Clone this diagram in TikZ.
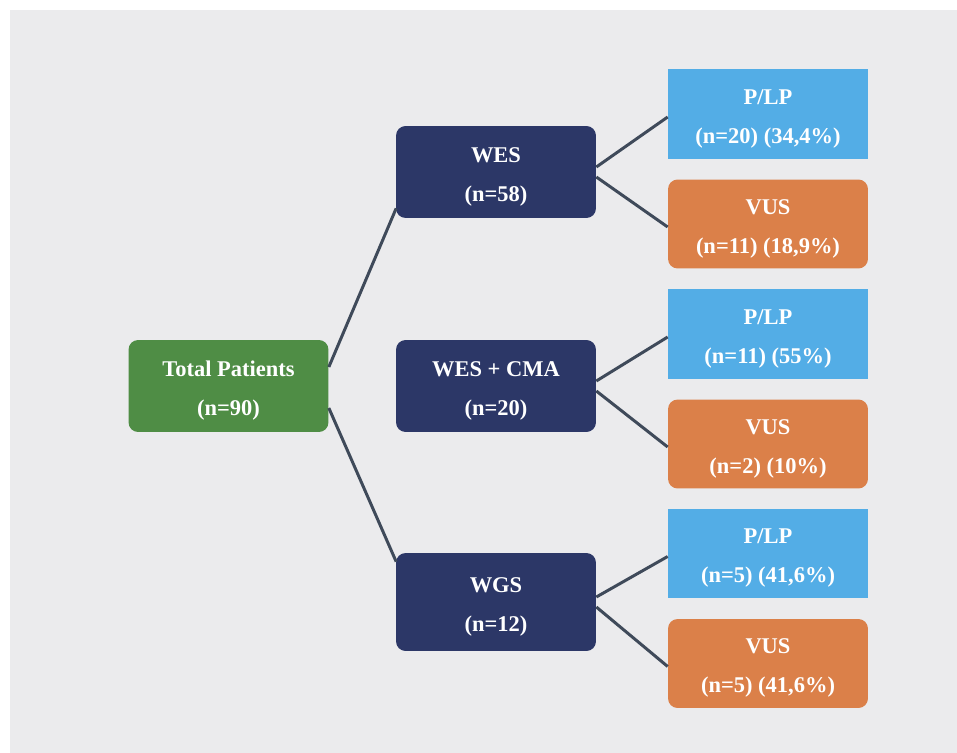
\documentclass[tikz,border=0pt]{standalone}
\usepackage{fontspec}
\setmainfont{Liberation Serif}
\usepackage{xcolor}
\usepackage{tikz}
\usetikzlibrary{positioning,calc}

\definecolor{panelgray}{HTML}{EBEBED}
\definecolor{totalgreen}{HTML}{4F8D45}
\definecolor{testnavy}{HTML}{2C3767}
\definecolor{plpblue}{HTML}{53ADE6}
\definecolor{vusorange}{HTML}{DB8049}
\definecolor{linkgray}{HTML}{3F4A5A}

\begin{document}
\begin{tikzpicture}[
  x=0.02cm, y=-0.02cm,
  font=\fontsize{12.8}{22.2}\selectfont\bfseries,
  box/.style={text=white, align=center, inner sep=0pt,
              text height=33.4pt, text depth=0pt,
              minimum width=4cm, minimum height=1.84cm},
  root/.style={box, fill=totalgreen, rounded corners=5.5pt},
  test/.style={box, fill=testnavy, rounded corners=5.5pt},
  plp/.style={box, fill=plpblue, minimum height=1.8cm},
  vus/.style={box, fill=vusorange, rounded corners=5.5pt, minimum height=1.78cm},
  link/.style={draw=linkgray, line width=1.7pt},
]
\fill[white] (0,0) rectangle (957,753);
\fill[panelgray] (10,10) rectangle (957,753);
\useasboundingbox (0,0) rectangle (957,753);

\node[root] (total) at (228.5,386) {Total Patients\\(n=90)};

\node[test] (wes) at (496,172) {WES\\(n=58)};
\node[test] (cma) at (496,386) {WES + CMA\\(n=20)};
\node[test, minimum height=1.96cm] (wgs) at (496,602) {WGS\\(n=12)};

\node[plp] (plp1) at (768,114)   {P/LP\\(n=20) (34,4\%)};
\node[vus] (vus1) at (768,224)   {VUS\\(n=11) (18,9\%)};
\node[plp] (plp2) at (768,334)   {P/LP\\(n=11) (55\%)};
\node[vus] (vus2) at (768,444)   {VUS\\(n=2) (10\%)};
\node[plp] (plp3) at (768,553.5) {P/LP\\(n=5) (41,6\%)};
\node[vus] (vus3) at (768,663.5) {VUS\\(n=5) (41,6\%)};

% root to tests
\draw[link] ($(total.east)+(0,-19)$) -- ($(wes.south west)+(0.5,-10)$);
\draw[link] ($(total.east)+(0,22)$) -- ($(wgs.north west)+(0.5,9)$);

% tests to results
\foreach \t/\p/\v in {wes/plp1/vus1, cma/plp2/vus2, wgs/plp3/vus3}{
  \draw[link] ($(\t.east)+(0,-5)$) -- ($(\p.west)+(0,3)$);
  \draw[link] ($(\t.east)+(0,5)$) -- ($(\v.west)+(0,3)$);
}
\end{tikzpicture}
\end{document}
